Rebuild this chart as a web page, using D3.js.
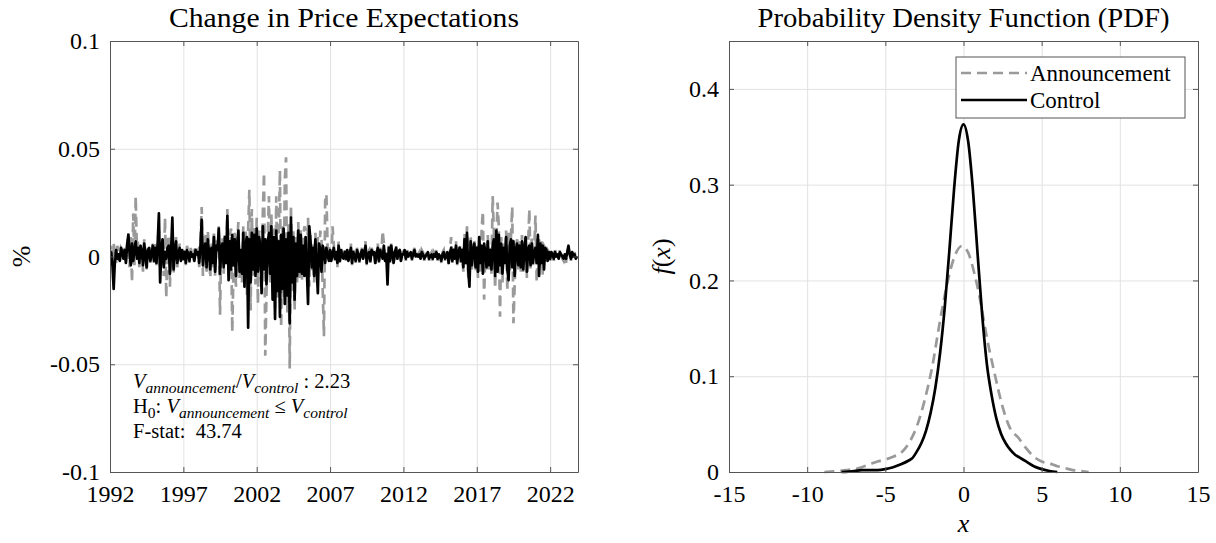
<!DOCTYPE html>
<html>
<head>
<meta charset="utf-8">
<script src="https://cdn.jsdelivr.net/npm/d3@7"></script>
<style>
  body { margin: 0; background: #fff; }
  text { font-family: "Liberation Serif", "DejaVu Serif", serif; fill: #000; }
</style>
</head>
<body>
<svg id="fig" width="1216" height="543"></svg>
<script>
// ---- data ----
const startYear = 1992;
const endYear = 2023.9;
const yearTicks = [1992, 1997, 2002, 2007, 2012, 2017, 2022];
const changeTicks = [-0.1, -0.05, 0, 0.05, 0.1];
const changeTickLabels = ["-0.1", "-0.05", "0", "0.05", "0.1"];

// monthly changes, Jan 1992 onwards (one row per year)
const controlChange = [
  0, .002, -.004, -.015, -.002, .003, -.001, .001, -.002, .004, .002, -.001,
  .003, -.003, .005, .010, .002, -.004, .006, -.002, .003, .007, -.001, .004,
  -.003, .005, .002, -.004, .006, .001, -.005, .003, .004, -.002, .001, .005,
  -.002, .004, -.003, .006, .020, -.012, .003, .008, -.005, .002, -.001, .004,
  .005, -.008, .003, .018, -.006, .002, .007, -.003, .001, .004, -.002, .003,
  -.001, .002, -.003, .003, .001, -.002, .002, 0, .001, -.002, .003, .001,
  .002, -.003, .005, .017, -.004, .003, .006, -.005, .008, .002, -.006, .004,
  -.003, .009, -.007, .005, .003, .013, -.008, .004, .006, -.005, .009, -.003,
  .019, -.011, .007, -.006, .010, -.004, .008, -.009, .005, .012, -.007, .003,
  -.008, .011, -.014, .006, .009, -.033, .008, -.012, .011, -.006, .010, -.009,
  .013, -.007, .009, .004, -.017, .014, -.006, .008, -.013, .006, .011, -.008,
  .014, -.020, .009, -.029, .012, -.016, .007, -.028, .010, -.015, .013, -.022,
  .008, -.018, .011, -.031, .018, -.012, .009, -.020, .006, -.009, .012, -.007,
  .010, -.008, .005, -.009, .009, -.006, -.022, .014, .007, -.005, .004, -.009,
  .008, -.004, -.017, .006, .003, -.007, .005, .002, -.003, .004, .001, -.002,
  .003, -.002, .001, .004, -.001, .002, -.003, .005, -.002, .003, 0, -.001,
  .002, -.001, .003, -.002, .001, .004, -.003, .002, 0, -.002, .003, .001,
  -.002, .001, .003, -.001, .002, .005, -.003, .001, .002, -.002, .003, .001,
  .002, -.003, .001, .004, -.002, .003, .001, -.001, .005, -.002, .001, -.013,
  .004, -.002, .005, .001, -.003, .002, .004, -.001, .002, .003, -.002, .001,
  .001, .003, -.001, .002, 0, .001, .002, -.001, .001, .003, 0, .001,
  0, .001, -.001, .002, .001, -.001, 0, .001, .002, -.001, 0, .001,
  -.001, .001, 0, .002, -.001, .001, 0, -.002, .001, .002, -.001, 0,
  .002, -.003, .001, .004, -.002, .003, -.001, .005, -.003, .002, .004, -.002,
  .003, -.005, .008, -.003, .011, -.006, -.014, .007, -.004, .003, .006, -.005,
  .004, -.007, .009, -.003, .005, -.008, .006, .002, -.005, .007, -.004, .003,
  -.006, .005, .008, -.009, .012, -.007, .010, -.004, .006, -.008, .004, -.003,
  .009, -.006, -.011, .005, .008, -.005, .007, -.009, .003, .006, -.004, .005,
  -.005, .007, -.006, .004, .009, -.007, .003, .005, -.004, .006, -.003, .002,
  .004, -.003, .010, -.009, .006, -.003, .005, -.006, .004, .003, -.002, .002,
  -.001, .002, .001, -.001, .002, 0, .001, -.001, .002, .001, 0, -.001,
  .001, -.001, .002, .005, .001, -.001, .002, 0, .001, -.001, 0
];
const announcementChange = [
  .002, .005, -.004, .006, .001, -.003, .005, .002, -.002, .004, .003, -.001,
  .004, -.002, .006, .011, -.005, .009, -.012, .020, -.004, .028, .003, .007,
  -.005, .006, .003, -.007, .008, .002, -.006, .004, .005, -.003, .002, .006,
  -.003, .007, -.004, .008, .012, -.006, .004, .009, -.009, .018, -.019, .006,
  .010, -.014, .007, .004, -.008, .003, .009, -.005, .002, .006, -.003, .004,
  -.002, .003, -.004, .005, .002, -.003, .004, .001, .002, -.003, .005, .002,
  .003, -.005, .007, .023, -.009, .004, .010, -.007, .012, .003, -.010, .006,
  -.005, .012, -.009, .008, .005, .014, -.027, .006, .009, -.008, .011, -.004,
  .022, -.009, .010, .013, -.035, -.006, .011, -.014, .007, .016, -.010, .004,
  -.012, .014, .008, .012, -.018, .012, .031, -.025, .022, -.009, .014, -.013,
  .018, -.022, .012, .008, -.009, .020, .039, -.046, -.017, .008, .028, -.012,
  .020, -.015, .013, -.024, .028, -.020, .010, .040, -.033, .014, -.019, .036,
  .046, -.026, .015, -.052, .024, -.016, .012, -.025, .009, -.012, .016, -.010,
  .013, -.011, .008, .014, .012, -.009, .018, -.014, .010, -.007, .006, -.012,
  .011, -.006, .009, -.004, .012, .008, -.016, -.037, .026, .029, .004, .003,
  .005, -.003, .014, .006, -.002, .003, -.005, .007, -.003, .004, .001, -.002,
  .003, -.002, .004, -.003, .002, .006, -.004, .003, .001, -.003, .004, .002,
  -.003, .002, .004, -.002, .005, .007, -.004, .002, .003, -.003, .004, .002,
  .003, -.004, .002, .006, -.003, .004, .002, .012, .006, -.003, .002, -.006,
  .005, -.003, .006, .002, -.004, .003, .005, -.002, .003, .004, -.003, .002,
  .002, .004, -.002, .003, .001, .002, .003, -.002, .002, .004, .001, .002,
  .001, .002, -.002, .003, .002, -.002, .001, .002, .003, -.002, .001, .002,
  -.002, .002, .001, .003, -.002, .002, .001, -.003, .002, .003, -.002, .001,
  .003, -.004, .002, .009, -.003, .004, -.002, .007, -.004, .003, .006, -.003,
  .004, -.007, .011, -.004, .014, -.009, -.012, .010, -.006, .004, .008, -.007,
  .005, -.010, .008, -.007, .013, .021, -.020, .003, -.007, .010, -.006, .004,
  -.008, .028, .011, -.015, .006, .025, .014, -.028, .009, -.012, .006, -.004,
  .012, -.016, .011, -.007, .010, .023, -.031, -.013, .004, .008, -.006, .007,
  -.007, .010, -.008, .006, .009, -.010, .005, .022, -.006, .009, -.004, .003,
  .019, -.012, .006, .008, -.004, .007, -.009, .005, .004, -.003, .003, .002,
  -.002, .003, .001, -.002, .003, .001, .002, -.001, .003, .001, -.001, -.002,
  .001, -.003, .002, .004, .001, -.002, .003, 0, .002, -.001, 0
];

const pdfXTicks = [-15, -10, -5, 0, 5, 10, 15];
const pdfYTicks = [0, 0.1, 0.2, 0.3, 0.4];
const pdfYTickLabels = ["0", "0.1", "0.2", "0.3", "0.4"];

const announcementPdfX = [-8.9, -8, -7.5, -7, -6.5, -6, -5.5, -5, -4.5, -4, -3.5, -3, -2.5, -2, -1.5, -1, -0.5, -0.1,
  0.3, 0.7, 1.0, 1.5, 2.0, 2.5, 3.0, 3.5, 4.0, 4.5, 5.0, 5.5, 6.0, 6.5, 7.0, 7.5, 8.0];
const announcementPdfY = [0, 0.001, 0.002, 0.003, 0.005, 0.008, 0.011, 0.013, 0.016, 0.020, 0.030, 0.047, 0.074, 0.110, 0.158, 0.200, 0.228, 0.236,
  0.229, 0.207, 0.185, 0.140, 0.102, 0.068, 0.045, 0.036, 0.025, 0.016, 0.011, 0.009, 0.006, 0.004, 0.002, 0.001, 0];

const controlPdfX = [-7.8, -7, -6.5, -6, -5.5, -5, -4.5, -4, -3.5, -3.3, -3, -2.7, -2.4, -2.1, -1.8, -1.5, -1.2, -0.9, -0.6, -0.3, 0,
  0.3, 0.6, 0.9, 1.2, 1.5, 1.8, 2.1, 2.4, 2.7, 3.0, 3.3, 3.6, 4.0, 4.5, 5.0, 5.5, 6.0];
const controlPdfY = [0, 0.001, 0.002, 0.002, 0.002, 0.003, 0.005, 0.008, 0.012, 0.014, 0.021, 0.030, 0.043, 0.062, 0.088, 0.124, 0.172, 0.232, 0.296, 0.346, 0.363,
  0.345, 0.295, 0.228, 0.163, 0.112, 0.080, 0.056, 0.040, 0.030, 0.023, 0.018, 0.015, 0.011, 0.006, 0.003, 0.001, 0];

// ---- layout ----
const svg = d3.select("#fig");
const axisColor = "#555";
const gridColor = "#e2e2e2";
const grayLine = "#9a9a9a";
const tickFont = 24;
const lineWidth = 2.7;

const leftBox = {x: 110, y: 41, w: 468, h: 431};
const rightBox = {x: 729, y: 41, w: 469, h: 431};

function drawGrid(g, box, x, y, xTicks, yTicks) {
  g.append("g")
      .attr("transform", `translate(0,${box.h})`)
      .call(d3.axisBottom(x).tickValues(xTicks).tickSize(-box.h).tickFormat(""))
      .call(s => s.select(".domain").remove())
      .call(s => s.selectAll("line").attr("stroke", gridColor));
  g.append("g")
      .call(d3.axisLeft(y).tickValues(yTicks).tickSize(-box.w).tickFormat(""))
      .call(s => s.select(".domain").remove())
      .call(s => s.selectAll("line").attr("stroke", gridColor));
}

function drawAxes(g, box, x, y, xTicks, yTicks, xLabels, yLabels) {
  const style = s => {
    s.select(".domain").attr("stroke", axisColor);
    s.selectAll(".tick line").attr("stroke", axisColor);
    s.selectAll("text").attr("font-size", tickFont).attr("font-family", "Liberation Serif").attr("fill", "#000");
  };
  g.append("g")
      .attr("transform", `translate(0,${box.h})`)
      .call(d3.axisBottom(x).tickValues(xTicks).tickSizeInner(-5).tickSizeOuter(0).tickPadding(13)
        .tickFormat((d, i) => xLabels[i]))
      .call(style);
  g.append("g")
      .call(d3.axisTop(x).tickValues(xTicks).tickSizeInner(-5).tickSizeOuter(0).tickFormat(""))
      .call(style);
  g.append("g")
      .call(d3.axisLeft(y).tickValues(yTicks).tickSizeInner(-5).tickSizeOuter(0).tickPadding(10)
        .tickFormat((d, i) => yLabels[i]))
      .call(style);
  g.append("g")
      .attr("transform", `translate(${box.w},0)`)
      .call(d3.axisRight(y).tickValues(yTicks).tickSizeInner(-5).tickSizeOuter(0).tickFormat(""))
      .call(style);
}

function title(box, str, len) {
  svg.append("text")
      .attr("x", box.x + box.w / 2).attr("y", 27)
      .attr("text-anchor", "middle").attr("font-size", 27)
      .attr("textLength", len).attr("lengthAdjust", "spacingAndGlyphs")
      .text(str);
}

// ---- left: change in price expectations ----
const gL = svg.append("g").attr("transform", `translate(${leftBox.x},${leftBox.y})`);
const xL = d3.scaleLinear().domain([startYear, endYear]).range([0, leftBox.w]);
const yL = d3.scaleLinear().domain([-0.1, 0.1]).range([leftBox.h, 0]);

drawGrid(gL, leftBox, xL, yL, yearTicks, changeTicks);

gL.append("clipPath").attr("id", "clipL")
  .append("rect").attr("width", leftBox.w).attr("height", leftBox.h);

const lineL = d3.line()
    .x((d, i) => xL(startYear + i / 12))
    .y(d => yL(d));

const plotL = gL.append("g").attr("clip-path", "url(#clipL)");
plotL.append("path")
    .datum(announcementChange)
    .attr("fill", "none")
    .attr("stroke", grayLine)
    .attr("stroke-width", lineWidth)
    .attr("stroke-dasharray", "10,6")
    .attr("d", lineL);
plotL.append("path")
    .datum(controlChange)
    .attr("fill", "none")
    .attr("stroke", "#000")
    .attr("stroke-width", lineWidth)
    .attr("stroke-linejoin", "round")
    .attr("d", lineL);

drawAxes(gL, leftBox, xL, yL, yearTicks, changeTicks, yearTicks.map(String), changeTickLabels);

title(leftBox, "Change in Price Expectations", 350);

svg.append("text")
    .attr("transform", `translate(30,${leftBox.y + leftBox.h / 2}) rotate(-90)`)
    .attr("text-anchor", "middle").attr("font-size", 26)
    .text("%");

// annotation with subscripts
function richLine(x, y, parts) {
  const t = svg.append("text").attr("x", x).attr("y", y).attr("font-size", 20.5);
  let shifted = false;
  parts.forEach(p => {
    const span = t.append("tspan").text(p.t);
    if (p.it) span.attr("font-style", "italic");
    if (p.sub) {
      span.attr("font-size", 15.5);
      if (!shifted) { span.attr("dy", 5); shifted = true; }
    } else if (shifted) { span.attr("dy", -5); shifted = false; }
  });
}
richLine(133, 388, [
  {t: "V", it: true}, {t: "announcement", it: true, sub: true},
  {t: "/"}, {t: "V", it: true}, {t: "control", it: true, sub: true},
  {t: " : 2.23"}
]);
richLine(133, 413, [
  {t: "H"}, {t: "0", sub: true}, {t: ": "},
  {t: "V", it: true}, {t: "announcement", it: true, sub: true},
  {t: " \u2264 "}, {t: "V", it: true}, {t: "control", it: true, sub: true}
]);
richLine(133, 438, [{t: "F-stat:\u00a0 43.74"}]);

// ---- right: PDF ----
const gR = svg.append("g").attr("transform", `translate(${rightBox.x},${rightBox.y})`);
const xR = d3.scaleLinear().domain([-15, 15]).range([0, rightBox.w]);
const yR = d3.scaleLinear().domain([0, 0.45]).range([rightBox.h, 0]);

drawGrid(gR, rightBox, xR, yR, pdfXTicks, pdfYTicks);

const lineR = d3.line()
    .x(d => xR(d[0]))
    .y(d => yR(d[1]))
    .curve(d3.curveMonotoneX);

gR.append("path")
    .datum(d3.zip(announcementPdfX, announcementPdfY))
    .attr("fill", "none")
    .attr("stroke", grayLine)
    .attr("stroke-width", lineWidth)
    .attr("stroke-dasharray", "10,6")
    .attr("d", lineR);
gR.append("path")
    .datum(d3.zip(controlPdfX, controlPdfY))
    .attr("fill", "none")
    .attr("stroke", "#000")
    .attr("stroke-width", lineWidth)
    .attr("d", lineR);

drawAxes(gR, rightBox, xR, yR, pdfXTicks, pdfYTicks, pdfXTicks.map(String), pdfYTickLabels);

title(rightBox, "Probability Density Function (PDF)", 412);

const fx = svg.append("text")
    .attr("transform", `translate(670,${rightBox.y + rightBox.h / 2}) rotate(-90)`)
    .attr("text-anchor", "middle").attr("font-size", 26);
fx.append("tspan").attr("font-style", "italic").text("f");
fx.append("tspan").text("(");
fx.append("tspan").attr("font-style", "italic").text("x");
fx.append("tspan").text(")");

svg.append("text")
    .attr("x", rightBox.x + rightBox.w / 2).attr("y", 532)
    .attr("text-anchor", "middle").attr("font-size", 26).attr("font-style", "italic")
    .text("x");

// legend
const legend = svg.append("g").attr("transform", "translate(956,57)");
legend.append("rect")
    .attr("width", 229).attr("height", 61)
    .attr("fill", "#fff").attr("stroke", axisColor);
const legendItems = [
  {name: "Announcement", color: grayLine, dash: "10,6"},
  {name: "Control", color: "#000", dash: null}
];
legendItems.forEach((d, i) => {
  const yy = 16 + i * 27;
  legend.append("line")
      .attr("x1", 5).attr("x2", 71).attr("y1", yy).attr("y2", yy)
      .attr("stroke", d.color).attr("stroke-width", lineWidth)
      .attr("stroke-dasharray", d.dash);
  legend.append("text")
      .attr("x", 74).attr("y", yy + 8).attr("font-size", 23)
      .text(d.name);
});
</script>
</body>
</html>
